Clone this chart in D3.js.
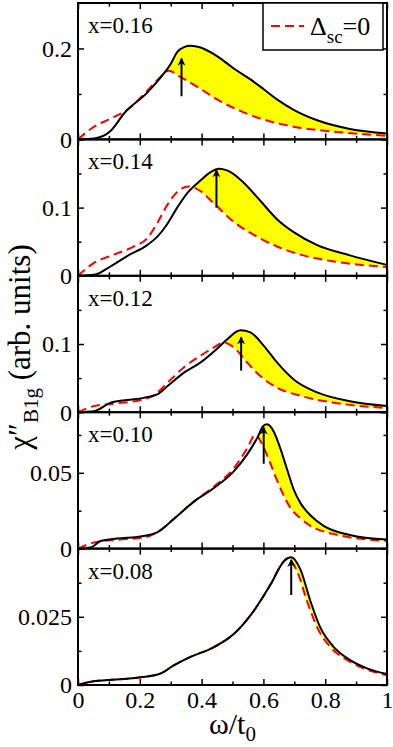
<!DOCTYPE html>
<html>
<head>
<meta charset="utf-8">
<script src="https://cdn.jsdelivr.net/npm/d3@7"></script>
<style>
    body { margin: 0; background: #fff; }
    svg { display: block; }
    text { font-family: "Liberation Serif", "Times New Roman", serif; fill: #000; }
</style>
</head>
<body>
<div id="chart"></div>
<script>
// panel labels (doping), top to bottom
const panelLabels = ['x=0.16', 'x=0.14', 'x=0.12', 'x=0.10', 'x=0.08'];
const yMax = [0.3, 0.2, 0.2, 0.09, 0.05];
const yMajorTicks = [[0, 0.2], [0, 0.1], [0, 0.1], [0, 0.05], [0, 0.025]];
const yMinorTicks = [[0.1], [0.05, 0.15], [0.05, 0.15], [0.025, 0.075], [0.0125, 0.0375]];
const xMajorTicks = [0, 0.2, 0.4, 0.6, 0.8, 1];
const xMinorTicks = [0.1, 0.3, 0.5, 0.7, 0.9];

// x=0.16
const blackW16 = [0, 0.052, 0.106, 0.149, 0.224, 0.278, 0.30, 0.321, 0.343, 0.364, 0.397, 0.45, 0.504, 0.558, 0.60, 0.644, 0.698, 0.774, 0.88, 1.0];
const blackY16 = [0, 0.002, 0.019, 0.057, 0.103, 0.145, 0.166, 0.192, 0.203, 0.206, 0.202, 0.183, 0.156, 0.132, 0.111, 0.088, 0.065, 0.042, 0.023, 0.013];
const redW16 = [0, 0.041, 0.106, 0.159, 0.213, 0.256, 0.294, 0.332, 0.397, 0.45, 0.504, 0.59, 0.698, 0.828, 1.0];
const redY16 = [0, 0.023, 0.046, 0.065, 0.099, 0.130, 0.151, 0.137, 0.111, 0.088, 0.069, 0.046, 0.028, 0.017, 0.008];

// x=0.14
const blackW14 = [0, 0.052, 0.106, 0.159, 0.224, 0.256, 0.289, 0.321, 0.353, 0.397, 0.429, 0.456, 0.494, 0.537, 0.59, 0.644, 0.698, 0.774, 0.88, 1.0];
const blackY14 = [0, 0.0014, 0.014, 0.029, 0.045, 0.057, 0.076, 0.100, 0.121, 0.140, 0.152, 0.157, 0.152, 0.136, 0.110, 0.083, 0.064, 0.045, 0.030, 0.016];
const redW14 = [0, 0.052, 0.116, 0.181, 0.224, 0.256, 0.289, 0.321, 0.359, 0.397, 0.44, 0.504, 0.569, 0.644, 0.72, 0.828, 1.0];
const redY14 = [0, 0.019, 0.031, 0.043, 0.055, 0.077, 0.104, 0.123, 0.131, 0.124, 0.106, 0.079, 0.060, 0.043, 0.031, 0.021, 0.013];

// x=0.12
const blackW12 = [0, 0.052, 0.106, 0.159, 0.213, 0.256, 0.289, 0.343, 0.397, 0.45, 0.483, 0.526, 0.558, 0.60, 0.644, 0.698, 0.774, 0.88, 1.0];
const blackY12 = [0, 0.0015, 0.014, 0.018, 0.021, 0.026, 0.038, 0.058, 0.073, 0.093, 0.107, 0.120, 0.117, 0.098, 0.073, 0.048, 0.029, 0.016, 0.009];
const redW12 = [0, 0.052, 0.127, 0.203, 0.246, 0.289, 0.343, 0.397, 0.44, 0.472, 0.504, 0.547, 0.59, 0.644, 0.72, 0.828, 1.0];
const redY12 = [0, 0.009, 0.013, 0.018, 0.025, 0.043, 0.066, 0.083, 0.095, 0.102, 0.095, 0.073, 0.053, 0.036, 0.024, 0.014, 0.006];

// x=0.10
const blackW10 = [0, 0.041, 0.073, 0.127, 0.203, 0.256, 0.31, 0.375, 0.44, 0.504, 0.547, 0.58, 0.60, 0.612, 0.634, 0.655, 0.677, 0.698, 0.72, 0.752, 0.795, 0.88, 1.0];
const blackY10 = [0, 0.0007, 0.005, 0.0067, 0.008, 0.0107, 0.0196, 0.031, 0.040, 0.051, 0.062, 0.073, 0.081, 0.082, 0.077, 0.066, 0.052, 0.039, 0.030, 0.022, 0.015, 0.009, 0.006];
const redW10 = [0, 0.052, 0.127, 0.213, 0.256, 0.31, 0.375, 0.44, 0.504, 0.547, 0.574, 0.60, 0.623, 0.644, 0.666, 0.687, 0.72, 0.752, 0.828, 1.0];
const redY10 = [0, 0.004, 0.0058, 0.0073, 0.0107, 0.0196, 0.031, 0.041, 0.053, 0.066, 0.075, 0.067, 0.056, 0.045, 0.035, 0.027, 0.020, 0.015, 0.0096, 0.005];

// x=0.08
const blackW08 = [0, 0.041, 0.095, 0.203, 0.267, 0.31, 0.364, 0.44, 0.504, 0.569, 0.623, 0.666, 0.69, 0.72, 0.752, 0.784, 0.828, 0.881, 0.935, 1.0];
const blackY08 = [0, 0.0012, 0.0018, 0.0028, 0.0042, 0.0072, 0.0103, 0.0139, 0.0187, 0.0272, 0.0368, 0.0453, 0.0468, 0.0423, 0.0308, 0.0211, 0.0139, 0.0091, 0.0061, 0.004];
const redW08 = [0, 0.041, 0.095, 0.203, 0.267, 0.31, 0.364, 0.44, 0.504, 0.569, 0.623, 0.66, 0.677, 0.709, 0.741, 0.774, 0.817, 0.881, 1.0];
const redY08 = [0, 0.0012, 0.0018, 0.0028, 0.0042, 0.0072, 0.0103, 0.0139, 0.0187, 0.0272, 0.0368, 0.0445, 0.0465, 0.0417, 0.0308, 0.0211, 0.0139, 0.0085, 0.0036];

// where the yellow region begins, and the arrows
const fillStart = [0.29, 0.37, 0.472, 0.58, 0.677];
const arrowW = [0.335, 0.448, 0.528, 0.601, 0.69];
const arrowFrom = [0.095, 0.1, 0.061, 0.056, 0.033];
const arrowTo = [0.178, 0.155, 0.11, 0.08, 0.0459];

const blackW = [blackW16, blackW14, blackW12, blackW10, blackW08];
const blackY = [blackY16, blackY14, blackY12, blackY10, blackY08];
const redW = [redW16, redW14, redW12, redW10, redW08];
const redY = [redY16, redY14, redY12, redY10, redY08];

const width = 393, height = 747;
const margin = {top: 3, right: 6, bottom: 62, left: 78};
const plotW = width - margin.left - margin.right;
const panelH = (height - margin.top - margin.bottom) / 5;

const svg = d3.select('#chart').append('svg')
    .attr('width', width)
    .attr('height', height);

const defs = svg.append('defs');
defs.append('marker')
    .attr('id', 'arrowhead')
    .attr('viewBox', '0 0 10 10')
    .attr('refX', 9).attr('refY', 5)
    .attr('markerWidth', 4).attr('markerHeight', 4.5)
    .attr('markerUnits', 'strokeWidth')
    .attr('orient', 'auto')
    .append('path')
    .attr('d', 'M0,0 L10,5 L0,10 L3,5 Z')
    .attr('fill', '#000');

const x = d3.scaleLinear().domain([0, 1]).range([0, plotW]);

for (let i = 0; i < 5; i++) {
    const y = d3.scaleLinear().domain([0, yMax[i]]).range([panelH, 0]);
    const g = svg.append('g')
        .attr('transform', `translate(${margin.left}, ${margin.top + i * panelH})`);

    const black = blackW[i].map((w, k) => ({w: w, v: blackY[i][k]}));
    const red = redW[i].map((w, k) => ({w: w, v: redY[i][k]}));

    // clip: region above red curve, and right of fillStart
    defs.append('clipPath').attr('id', 'above' + i)
        .append('path')
        .attr('d', d3.area().curve(d3.curveMonotoneX)
            .x(d => x(d.w)).y0(d => y(d.v)).y1(-5)(red));
    defs.append('clipPath').attr('id', 'right' + i)
        .append('rect')
        .attr('x', x(fillStart[i])).attr('y', 0)
        .attr('width', plotW - x(fillStart[i])).attr('height', panelH);

    g.append('g').attr('clip-path', `url(#right${i})`)
        .append('path')
        .attr('clip-path', `url(#above${i})`)
        .datum(black)
        .attr('d', d3.area().curve(d3.curveMonotoneX)
            .x(d => x(d.w)).y0(panelH).y1(d => y(d.v)))
        .attr('fill', '#ffff00');

    g.append('path')
        .datum(red)
        .attr('d', d3.line().curve(d3.curveMonotoneX).x(d => x(d.w)).y(d => y(d.v)))
        .attr('fill', 'none')
        .attr('stroke', '#ff0000')
        .attr('stroke-width', 2)
        .attr('stroke-dasharray', '9,5');

    g.append('path')
        .datum(black)
        .attr('d', d3.line().curve(d3.curveMonotoneX).x(d => x(d.w)).y(d => y(d.v)))
        .attr('fill', 'none')
        .attr('stroke', '#000')
        .attr('stroke-width', 2);

    // arrow
    g.append('line')
        .attr('x1', x(arrowW[i])).attr('x2', x(arrowW[i]))
        .attr('y1', y(arrowFrom[i])).attr('y2', y(arrowTo[i]))
        .attr('stroke', '#000')
        .attr('stroke-width', 2)
        .attr('marker-end', 'url(#arrowhead)');

    // axes, ticks pointing inward
    const fmt = d => d === 0 ? '0' : String(d);
    const left = g.append('g').call(d3.axisLeft(y).tickValues(yMajorTicks[i]).tickSizeInner(-6).tickSizeOuter(0).tickPadding(6).tickFormat(fmt));
    left.selectAll('text').style('font-size', '24px').attr('dy', '0.33em');
    g.append('g').call(d3.axisLeft(y).tickValues(yMinorTicks[i]).tickSizeInner(-3.5).tickSizeOuter(0).tickFormat(''));
    g.append('g').attr('transform', `translate(${plotW},0)`)
        .call(d3.axisRight(y).tickValues(yMajorTicks[i]).tickSizeInner(-6).tickSizeOuter(0).tickFormat(''));
    g.append('g').attr('transform', `translate(${plotW},0)`)
        .call(d3.axisRight(y).tickValues(yMinorTicks[i]).tickSizeInner(-3.5).tickSizeOuter(0).tickFormat(''));
    g.append('g').call(d3.axisTop(x).tickValues(xMajorTicks).tickSizeInner(-6).tickSizeOuter(0).tickFormat(''));
    g.append('g').call(d3.axisTop(x).tickValues(xMinorTicks).tickSizeInner(-3.5).tickSizeOuter(0).tickFormat(''));
    const bottom = g.append('g').attr('transform', `translate(0,${panelH})`)
        .call(d3.axisBottom(x).tickValues(xMajorTicks).tickSizeInner(-6).tickSizeOuter(0).tickPadding(6)
            .tickFormat(i === 4 ? fmt : ''));
    bottom.selectAll('text').style('font-size', '24px');
    g.append('g').attr('transform', `translate(0,${panelH})`)
        .call(d3.axisBottom(x).tickValues(xMinorTicks).tickSizeInner(-3.5).tickSizeOuter(0).tickFormat(''));
    g.selectAll('.domain').remove();
    g.selectAll('.tick line').attr('stroke-width', 1.5);

    g.append('rect')
        .attr('width', plotW).attr('height', panelH)
        .attr('fill', 'none').attr('stroke', '#000').attr('stroke-width', 2);

    g.append('text')
        .attr('x', 10).attr('y', 30)
        .style('font-size', '23px')
        .text(panelLabels[i]);
}

// legend in the top panel
const legend = svg.append('g').attr('transform', `translate(263, ${margin.top})`);
legend.append('rect')
    .attr('width', 120).attr('height', 47)
    .attr('fill', '#fff').attr('stroke', '#000').attr('stroke-width', 1.5);
legend.append('line')
    .attr('x1', 8).attr('x2', 41).attr('y1', 23).attr('y2', 23)
    .attr('stroke', '#ff0000').attr('stroke-width', 2).attr('stroke-dasharray', '9,5');
const lt = legend.append('text').attr('x', 47).attr('y', 32).style('font-size', '26px');
lt.append('tspan').text('Δ');
lt.append('tspan').attr('dy', 8).style('font-size', '19px').text('sc');
lt.append('tspan').attr('dy', -8).text('=0');

// axis titles
const xt = svg.append('text')
    .attr('x', margin.left + plotW / 2).attr('y', 734)
    .attr('text-anchor', 'middle')
    .style('font-size', '30px');
xt.append('tspan').text('ω/t');
xt.append('tspan').attr('dy', 7).style('font-size', '21px').text('0');

const yt = svg.append('text')
    .attr('transform', `translate(30, 347) rotate(-90)`)
    .attr('text-anchor', 'middle')
    .style('font-size', '31px');
yt.append('tspan').text('χ″');
yt.append('tspan').attr('dy', 8).style('font-size', '21px').text('B1g');
yt.append('tspan').attr('dy', -8).text(' (arb. units)');
</script>
</body>
</html>
